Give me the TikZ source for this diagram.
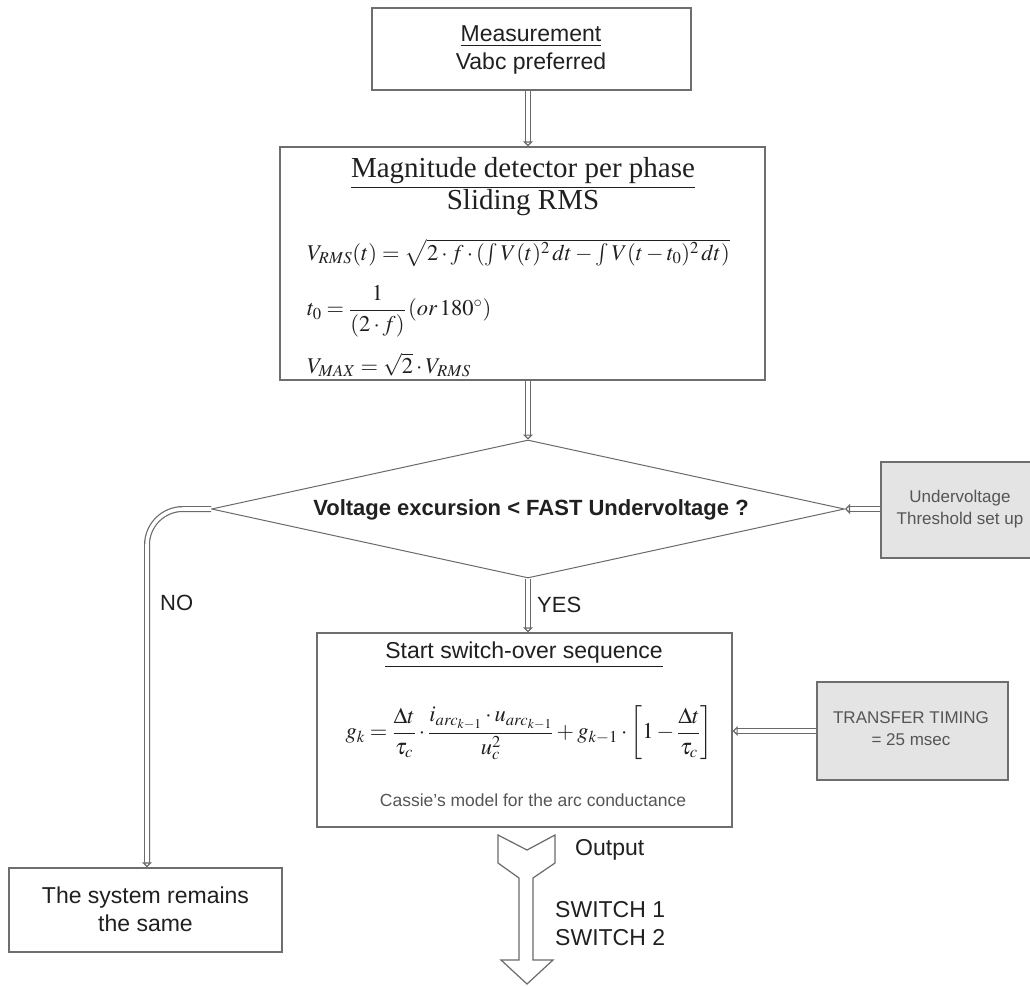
\documentclass[tikz,border=0pt]{standalone}
\usepackage{amsmath}
\usepackage{mathptmx}
\usepackage[no-math]{fontspec}
\setmainfont{Liberation Sans}
\newfontfamily\seriffont{Liberation Serif}
\usetikzlibrary{shapes.geometric,arrows.meta}
\definecolor{boxgray}{HTML}{6E6E6E}
\definecolor{linegray}{HTML}{6A6A6A}
\definecolor{boxfill}{HTML}{E4E4E4}
\definecolor{textcol}{HTML}{202020}
\definecolor{softtext}{HTML}{555555}
\begin{document}
\begin{tikzpicture}[x=1pt,y=-1pt,
  box/.style={draw=boxgray, line width=1.4pt, fill=white, inner sep=0pt},
  graybox/.style={box, fill=boxfill},
  txt/.style={inner sep=0pt, text=textcol, align=center, font=\fontsize{23}{28}\selectfont},
  softtxt/.style={inner sep=0pt, text=softtext, align=center, font=\fontsize{17}{22}\selectfont},
  serif/.style={inner sep=0pt, text=textcol, align=center, font=\seriffont\fontsize{29}{30}\selectfont},
  mathtxt/.style={inner sep=0pt, text=textcol, anchor=west, font=\fontsize{22.5}{27}\selectfont},
  dbl/.style={draw=linegray, line width=1.2pt, double=white, double distance=3.6pt,
    -{Triangle[open,length=5pt,width=10pt]}}
]
\useasboundingbox (0,0) rectangle (1030,985);

% boxes
\node[box, minimum width=319pt, minimum height=82pt] (meas) at (531.5,49) {};
\node[txt] (meastxt) at (531,50) {\underline{Measurement}\\Vabc preferred};

\node[box, minimum width=485pt, minimum height=233pt] (mag) at (522.5,263.5) {};
\node[serif] (magt) at (523,173) {\underline{Magnitude detector per phase}};
\node[serif] (slid) at (523,203) {Sliding RMS};
\node[mathtxt] (f1) at (307,253) {$V_{RMS}(t)=\sqrt{2\cdot f\cdot\left(\int V(t)^2\,dt-\int V(t-t_0)^2\,dt\right)}$};
\node[mathtxt] (f2) at (307,311) {$t_0=\dfrac{1}{(2\cdot f)}\,(\mathit{or}\,180^{\circ})$};
\node[mathtxt] (f3) at (307,365) {$V_{MAX}=\sqrt{2}\cdot V_{RMS}$};

\node[draw=linegray, line width=1pt, diamond, fill=white, inner sep=0pt,
      minimum width=633pt, minimum height=138pt] (dia) at (528,509) {};
\node[txt, font=\bfseries\fontsize{22}{26}\selectfont] (diat) at (531,510) {Voltage excursion < FAST Undervoltage ?};

\node[graybox, minimum width=160pt, minimum height=96pt] (uv) at (961,510) {};
\node[softtxt] (uvt) at (960,509) {Undervoltage\\Threshold set up};

\node[box, minimum width=415pt, minimum height=194pt] (sw) at (524.5,730) {};
\node[txt] (swt) at (524,655) {\underline{Start switch-over sequence}};
\node[mathtxt, anchor=center] (f4) at (529,733) {$g_k=\dfrac{\Delta t}{\tau_c}\cdot\dfrac{i_{arc_{k-1}}\cdot u_{arc_{k-1}}}{u_c^2}+g_{k-1}\cdot\left[1-\dfrac{\Delta t}{\tau_c}\right]$};
\node[softtxt, font=\fontsize{17.5}{22}\selectfont] (cas) at (533,800) {Cassie's model for the arc conductance};

\node[graybox, minimum width=191pt, minimum height=98pt] (tt) at (912.5,731) {};
\node[softtxt] (ttt) at (911,729) {TRANSFER TIMING\\= 25 msec};

\node[box, minimum width=273pt, minimum height=84pt] (sys) at (145.5,910) {};
\node[txt] (syst) at (145.5,909) {The system remains\\the same};

% connectors
\draw[dbl] (meas.south -| dia.north) -- (mag.north -| dia.north);
\draw[dbl] (mag.south -| dia.north) -- (dia.north);
\draw[dbl] (dia.south) -- (dia.south |- sw.north);
\draw[dbl, rounded corners=36pt] (dia.west) -| (sys.north -| 147,0);
\draw[dbl] (uv.west |- dia.east) -- (dia.east);
\draw[dbl] (tt.west) -- (tt.west -| sw.east);

\node[txt, anchor=west, font=\fontsize{22}{26}\selectfont] (yes) at (537,605) {YES};
\node[txt, anchor=west, font=\fontsize{22}{26}\selectfont] (no) at (160,603) {NO};

% output arrow
\draw[linegray, line width=1.2pt, fill=white]
  (498,835) -- (527,850) -- (555,835) -- (555,863) -- (533,878) -- (533,960)
  -- (553,960) -- (527,984) -- (501,960) -- (519,960) -- (519,878) -- (498,863) -- cycle;
\node[txt, anchor=west] (outp) at (575,850) {Output};
\node[txt, anchor=west, align=left] (swl) at (555,924) {SWITCH 1\\SWITCH 2};
\end{tikzpicture}
\end{document}
